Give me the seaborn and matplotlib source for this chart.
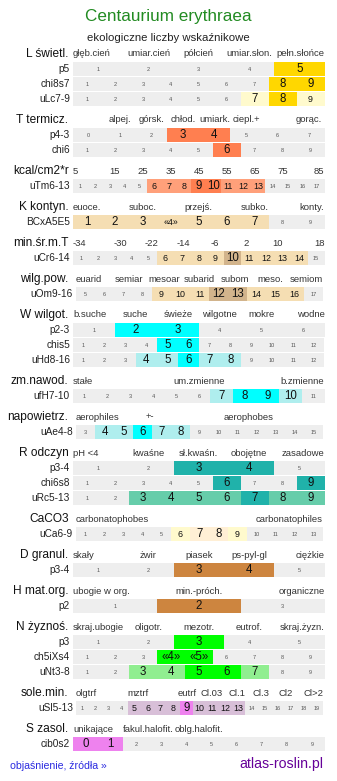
import numpy as np
import matplotlib
matplotlib.use("Agg")
import matplotlib.pyplot as plt
import seaborn as sns

sns.set_theme(style="white")
plt.rcParams['font.family'] = ['Liberation Sans', 'DejaVu Sans']

# ---------------- data ----------------
TITLE = "Centaurium erythraea"
SUBTITLE = "ekologiczne liczby wskaźnikowe"
FOOT_LEFT = "objaśnienie, źródła »"
FOOT_RIGHT = "atlas-roslin.pl"

group_names = ["L świetl.", "T termicz.", "kcal/cm2*r", "K kontyn.", "min.śr.m.T",
               "wilg.pow.", "W wilgot.", "zm.nawod.", "napowietrz.", "R odczyn",
               "CaCO3", "D granul.", "H mat.org.", "N żyznoś.", "sole.min.", "S zasol."]

L_header = ["głęb.cień", "umiar.cień", "półcień", "umiar.słon.", "pełn.słońce"]
L_rows = ["p5", "chi8s7", "uLc7-9"]
L_cells = ["1 2 3 4 5", "1 2 3 4 5 6 7 8 9", "1 2 3 4 5 6 7 8 9"]
L_levels = ["00002", "000000022", "000000123"]

T_header = ["alpej.", "górsk.", "chłod.", "umiark.", "ciepl.+", "gorąc."]
T_rows = ["p4-3", "chi6"]
T_cells = ["0 1 2 3 4 5 6 7", "1 2 3 4 5 6 7 8 9"]
T_levels = ["00022000", "000002000"]

kcal_header = ["5", "15", "25", "35", "45", "55", "65", "75", "85"]
kcal_rows = ["uTm6-13"]
kcal_cells = ["1 2 3 4 5 6 7 8 9 10 11 12 13 14 15 16 17"]
kcal_levels = ["00000333223330000"]

K_header = ["euoce.", "suboc.", "przejś.", "subko.", "konty."]
K_rows = ["BCxA5E5"]
K_cells = ["1 2 3 «4» 5 6 7 8 9"]
K_levels = ["222422200"]

min_header = ["-34", "-30", "-22", "-14", "-6", "2", "10", "18"]
min_rows = ["uCr6-14"]
min_cells = ["1 2 3 4 5 6 7 8 9 10 11 12 13 14 15"]
min_levels = ["000003333233330"]

wilg_header = ["euarid", "semiar", "mesoar", "subarid", "subom", "meso.", "semiom"]
wilg_rows = ["uOm9-16"]
wilg_cells = ["5 6 7 8 9 10 11 12 13 14 15 16 17"]
wilg_levels = ["0000333223330"]

W_header = ["b.suche", "suche", "świeże", "wilgotne", "mokre", "wodne"]
W_rows = ["p2-3", "chis5", "uHd8-16"]
W_cells = ["1 2 3 4 5 6", "1 2 3 4 5 6 7 8 9 10 11 12", "1 2 3 4 5 6 7 8 9 10 11 12"]
W_levels = ["022000", "000022000000", "000112110000"]

zm_header = ["stałe", "um.zmienne", "b.zmienne"]
zm_rows = ["ufH7-10"]
zm_cells = ["1 2 3 4 5 6 7 8 9 10 11"]
zm_levels = ["00000012210"]

nap_header = ["aerophiles", "+-", "aerophobes"]
nap_rows = ["uAe4-8"]
nap_cells = ["3 4 5 6 7 8 9 10 11 12 13 14 15"]
nap_levels = ["0112110000000"]

R_header = ["pH <4", "kwaśne", "sł.kwaśn.", "obojętne", "zasadowe"]
R_rows = ["p3-4", "chi6s8", "uRc5-13"]
R_cells = ["1 2 3 4 5", "1 2 3 4 5 6 7 8 9", "1 2 3 4 5 6 7 8 9"]
R_levels = ["00220", "000002002", "001111211"]

Ca_header = ["carbonatophobes", "carbonatophiles"]
Ca_rows = ["uCa6-9"]
Ca_cells = ["1 2 3 4 5 6 7 8 9 10 11 12 13"]
Ca_levels = ["0000032230000"]

D_header = ["skały", "żwir", "piasek", "ps-pyl-gl", "ciężkie"]
D_rows = ["p3-4"]
D_cells = ["1 2 3 4 5"]
D_levels = ["00220"]

H_header = ["ubogie w org.", "min.-próch.", "organiczne"]
H_rows = ["p2"]
H_cells = ["1 2 3"]
H_levels = ["020"]

N_header = ["skraj.ubogie", "oligotr.", "mezotr.", "eutrof.", "skraj.żyzn."]
N_rows = ["p3", "ch5iXs4", "uNt3-8"]
N_cells = ["1 2 3 4 5", "1 2 3 «4» «5» 6 7 8 9", "1 2 3 4 5 6 7 8 9"]
N_levels = ["00200", "000220000", "001122100"]

sole_header = ["olgtrf", "mztrf", "eutrf", "Cl.03", "Cl.1", "Cl.3", "Cl2", "Cl>2"]
sole_rows = ["uSl5-13"]
sole_cells = ["1 2 3 4 5 6 7 8 9 10 11 12 13 14 15 16 17 18 19"]
sole_levels = ["0000333323333000000"]

S_header = ["unikające", "fakul.halofit.", "oblg.halofit."]
S_rows = ["cib0s2"]
S_cells = ["0 1 2 3 4 5 6 7 8 9"]
S_levels = ["2200000000"]

# colours (strong, light) per group
group_colors = [("#FFD700", "#FFFACD"), ("#FF7F50", "#FFA07A"), ("#FF7F50", "#FFA07A"),
                ("#F5DEB3", "#F5DEB3"), ("#D2B48C", "#F5DEB3"), ("#D2B48C", "#F5DEB3"),
                ("#00FFFF", "#AFEEEE"), ("#00FFFF", "#AFEEEE"), ("#00FFFF", "#AFEEEE"),
                ("#20B2AA", "#66CDAA"), ("#FFEFD5", "#FFFACD"), ("#CD853F", "#CD853F"),
                ("#CD853F", "#CD853F"), ("#00FF00", "#90EE90"), ("#EE82EE", "#D8BFD8"),
                ("#EE82EE", "#EE82EE")]

# ---------------- layout ----------------
headers = [L_header, T_header, kcal_header, K_header, min_header, wilg_header, W_header,
           zm_header, nap_header, R_header, Ca_header, D_header, H_header, N_header,
           sole_header, S_header]
rows = [L_rows, T_rows, kcal_rows, K_rows, min_rows, wilg_rows, W_rows, zm_rows, nap_rows,
        R_rows, Ca_rows, D_rows, H_rows, N_rows, sole_rows, S_rows]
cells = [L_cells, T_cells, kcal_cells, K_cells, min_cells, wilg_cells, W_cells, zm_cells,
         nap_cells, R_cells, Ca_cells, D_cells, H_cells, N_cells, sole_cells, S_cells]
levels = [L_levels, T_levels, kcal_levels, K_levels, min_levels, wilg_levels, W_levels,
          zm_levels, nap_levels, R_levels, Ca_levels, D_levels, H_levels, N_levels,
          sole_levels, S_levels]
# header slot grids: (n_slots, positions) ; 'L' left edge, 'R' right edge
header_slots = [(5, ['L', 2, 3, 4, 'R']), (8, [2, 3, 4, 5, 6, 8]),
                (9, ['L', 2, 3, 4, 5, 6, 7, 8, 'R']), (9, ['L', 3, 5, 7, 'R']),
                (8, ['L', 2, 3, 4, 5, 6, 7, 'R']), (7, ['L', 2, 3, 4, 5, 6, 'R']),
                (6, ['L', 2, 3, 4, 5, 'R']), (11, ['L', 6, 'R']), (5, ['L', 2, 4]),
                (5, ['L', 2, 3, 4, 'R']), (2, ['L', 'R']), (5, ['L', 2, 3, 4, 'R']),
                (3, ['L', 2, 'R']), (5, ['L', 2, 3, 4, 'R']),
                (10, ['L', 3, 5, 6, 7, 8, 9, 'R']), (5, ['L', 2, 3])]
WIDE = {"uOm9-16", "uAe4-8", "uCa6-9", "uSl5-13"}

W_PX, H_PX = 337, 781
fig = plt.figure(figsize=(W_PX / 100, H_PX / 100), dpi=100)
fig.patch.set_facecolor("white")


def add_ax(x0, x1, yc, h):
    ax = fig.add_axes([x0 / W_PX, 1 - (yc + h / 2) / H_PX, (x1 - x0) / W_PX, h / H_PX])
    ax.axis('off')
    return ax


def ftext(x, y, s, **kw):
    fig.text(x / W_PX, 1 - y / H_PX, s, **kw)


ftext(168.5, 17, TITLE, ha='center', va='center', fontsize=12.3, color="#228B22")
ftext(168, 38, SUBTITLE, ha='center', va='center', fontsize=8.2, color="#222222")

GREY = "#EEEEEE"
SIZE = {'0': 4.0, '1': 8.3, '2': 8.3, '3': 6.4, '4': 6.4}
BAR_H = 14.5

y = 54
for g, name in enumerate(group_names):
    strong, light = group_colors[g]
    first = rows[g][0]
    x0, x1 = (76, 323) if first in WIDE else (73, 324.5)
    ftext(68.5, y, name, ha='right', va='center', fontsize=8.6, color="#111111")
    n_slots, poss = header_slots[g]
    hax = add_ax(x0, x1, y, 12)
    hax.set_xlim(0, n_slots)
    hax.set_ylim(0, 1)
    for lab, p in zip(headers[g], poss):
        if p == 'L':
            hax.text(0, 0.5, lab, ha='left', va='center', fontsize=6.8, color="#333333")
        elif p == 'R':
            hax.text(n_slots, 0.5, lab, ha='right', va='center', fontsize=6.8, color="#333333")
        else:
            hax.text(p - 0.5, 0.5, lab, ha='center', va='center', fontsize=6.8, color="#333333")
    for r, rname in enumerate(rows[g]):
        y += 15
        rx0, rx1 = (76, 323) if rname in WIDE else (73, 324.5)
        labs = cells[g][r].split()
        lev = levels[g][r]
        n = len(labs)
        ax = add_ax(rx0, rx1, y, BAR_H)
        ax.set_xlim(0, n)
        ax.set_ylim(0, 1)
        cols = [GREY if c == '0' else (strong if c in '24' else light) for c in lev]
        ax.bar(np.arange(n), 1, width=1, align='edge', color=cols, linewidth=0,
               antialiased=False)
        for i, (lab, c) in enumerate(zip(labs, lev)):
            ax.text(i + 0.5, 0.47, lab, ha='center', va='center', fontsize=SIZE[c],
                    color="#555555" if c == '0' else "#111111")
        ftext(rx0 - 3, y, rname, ha='right', va='center', fontsize=7.3, color="#222222")
    y += 21

ftext(10, 766, FOOT_LEFT, ha='left', va='center', fontsize=7.6, color="#2A2AE0")
ftext(323, 764, FOOT_RIGHT, ha='right', va='center', fontsize=10.2, color="#660099")

fig.savefig("out.png", dpi=100)
